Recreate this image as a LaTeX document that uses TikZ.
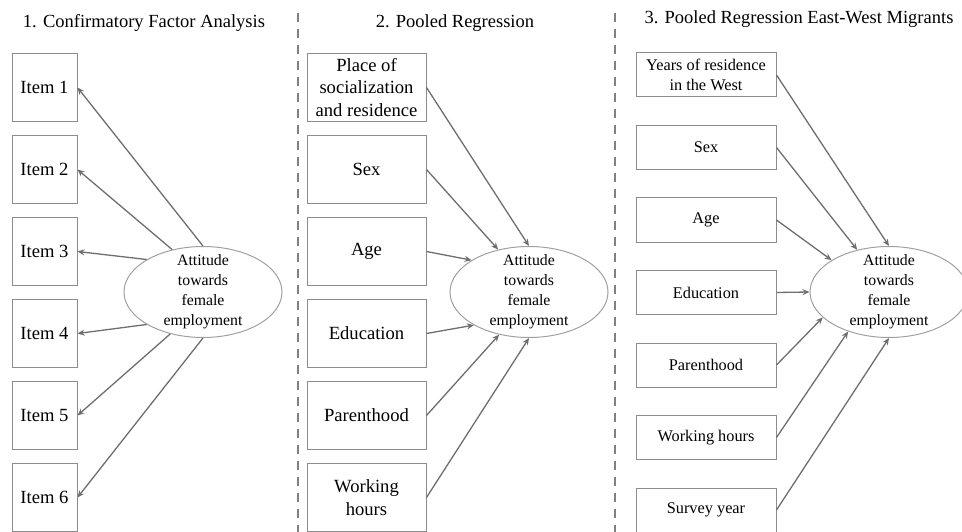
\documentclass[tikz,border=0pt]{standalone}
\usepackage{fontspec}
\setmainfont{Liberation Serif}
\usetikzlibrary{shapes.geometric,arrows.meta,positioning}
\definecolor{boxline}{HTML}{8C8C8C}
\definecolor{arrowline}{HTML}{6E6E6E}
\definecolor{ovalline}{HTML}{A0A0A0}
\definecolor{sepline}{HTML}{808080}

\begin{document}
\begin{tikzpicture}[x=1pt,y=-1pt,node distance=82pt,
  item/.style={draw=boxline,line width=1pt,minimum width=65pt,minimum height=68pt,inner sep=0pt,font=\fontsize{18.6}{22.5}\selectfont},
  var/.style={item,minimum width=119pt,align=center},
  small/.style={draw=boxline,line width=1pt,minimum width=140pt,minimum height=44pt,inner sep=0pt,align=center,font=\fontsize{16.3}{20}\selectfont},
  latent/.style={ellipse,draw=ovalline,line width=1pt,minimum width=158pt,minimum height=91pt,inner sep=0pt,inner ysep=-6pt,align=center,font=\fontsize{15.8}{20}\selectfont},
  arr/.style={draw=arrowline,line width=1.3pt,-{Stealth[length=7pt,width=6pt]}},
  title/.style={font=\fontsize{18.5}{22}\selectfont},
  divider/.style={draw=sepline,line width=2.2pt,dash pattern=on 9pt off 7pt}]
\useasboundingbox (0,0) rectangle (962,532);

\node[title](t1) at (144,23) {1. Confirmatory Factor Analysis};
\node[title](t2) at (455,23) {2. Pooled Regression};
\node[title](t3) at (799,19) {3. Pooled Regression East-West Migrants};

\draw[divider] (298,13) -- (298,532);
\draw[divider] (615,13) -- (615,532);

% 1. CFA
\node[item](item1) at (44.5,87.5) {Item 1};
\node[item](item2)[below of=item1]{Item 2};
\node[item](item3)[below of=item2]{Item 3};
\node[item](item4)[below of=item3]{Item 4};
\node[item](item5)[below of=item4]{Item 5};
\node[item](item6)[below of=item5]{Item 6};
\node[latent](att1) at (203,292) {Attitude\\towards\\female\\employment};
\draw[arr] (att1.90) -- (item1.east);
\draw[arr] (att1.126) -- (item2.east);
\draw[arr] (att1.150) -- (item3.east);
\draw[arr] (att1.210) -- (item4.east);
\draw[arr] (att1.232) -- (item5.east);
\draw[arr] (att1.270) -- (item6.east);

% 2. pooled regression
\node[var](place) at (366.5,87.5) {Place of\\socialization\\and residence};
\node[var](sex)[below of=place]{Sex};
\node[var](age)[below of=sex]{Age};
\node[var](edu)[below of=age]{Education};
\node[var](parent)[below of=edu]{Parenthood};
\node[var](hours)[below of=parent]{Working\\hours};
\node[latent](att2) at (529,292) {Attitude\\towards\\female\\employment};
\draw[arr] (place.east) -- (att2.90);
\draw[arr] (sex.east) -- (att2.126);
\draw[arr] (age.east) -- (att2.151);
\draw[arr] (edu.east) -- (att2.211);
\draw[arr] (parent.east) -- (att2.235);
\draw[arr] (hours.east) -- (att2.270);

% 3. east-west migrants
\begin{scope}[node distance=72.5pt]
\node[small](years) at (706,75) {Years of residence\\in the West};
\node[small](sexm)[below of=years]{Sex};
\node[small](agem)[below of=sexm]{Age};
\node[small](edum)[below of=agem]{Education};
\node[small](parentm)[below of=edum]{Parenthood};
\node[small](hoursm)[below of=parentm]{Working hours};
\node[small](yearm)[below of=hoursm]{Survey year};
\end{scope}
\node[latent](att3) at (889,292) {Attitude\\towards\\female\\employment};
\draw[arr] (years.east) -- (att3.90);
\draw[arr] (sexm.east) -- (att3.127);
\draw[arr] (agem.east) -- (att3.151);
\draw[arr] (edum.east) -- (att3.180);
\draw[arr] (parentm.east) -- (att3.201);
\draw[arr] (hoursm.east) -- (att3.224);
\draw[arr] (yearm.east) -- (att3.270);
\end{tikzpicture}
\end{document}
